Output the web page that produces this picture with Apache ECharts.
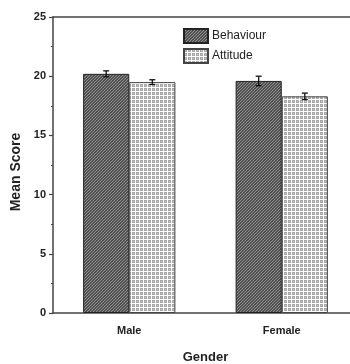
<!DOCTYPE html>
<html><head><meta charset="utf-8">
<script src="https://cdn.jsdelivr.net/npm/echarts@6/dist/echarts.min.js"></script>
<style>html,body{margin:0;padding:0;background:#fff}#c{width:350px;height:364px}</style>
</head><body><div id="c"></div>
<script>
const categories = ['Male', 'Female'];
const seriesNames = ['Behaviour', 'Attitude'];
const behaviour = [20.2, 19.6];
const behaviourErr = [0.25, 0.4];
const attitude = [19.5, 18.3];
const attitudeErr = [0.2, 0.27];
const yTicks = [0, 5, 10, 15, 20, 25];

function hatchPattern() {
  const c = document.createElement('canvas');
  c.width = 6; c.height = 6;
  const g = c.getContext('2d');
  g.fillStyle = '#525252'; g.fillRect(0, 0, 6, 6);
  g.strokeStyle = '#8e8e8e'; g.lineWidth = 1;
  for (let k = -6; k <= 12; k += 3) {
    g.beginPath(); g.moveTo(k, 6); g.lineTo(k + 6, 0); g.stroke();
  }
  return c;
}
function checkPattern() {
  const c = document.createElement('canvas');
  c.width = 4; c.height = 4;
  const g = c.getContext('2d');
  g.fillStyle = '#ffffff'; g.fillRect(0, 0, 4, 4);
  g.fillStyle = '#a8a8a8'; g.fillRect(0, 0, 3, 3);
  g.fillStyle = '#c8c8c8'; g.fillRect(1, 1, 1, 1);
  return c;
}
const fills = [{image: hatchPattern(), repeat: 'repeat'}, {image: checkPattern(), repeat: 'repeat'}];
const barGapPct = 0.395;

function errSeries(idx, vals, errs) {
  return {
    type: 'custom', name: seriesNames[idx] + ' err', silent: true, z: 5,
    data: vals.map((v, i) => [i, v, errs[i]]),
    renderItem: function (params, api) {
      const band = api.size([1, 0])[0];
      const bw = band * (1 - barGapPct) / 2;
      const c = api.coord([api.value(0), api.value(1)]);
      const x = c[0] + (idx === 0 ? -bw / 2 : bw / 2);
      const top = api.coord([api.value(0), api.value(1) + api.value(2)])[1];
      const bot = api.coord([api.value(0), api.value(1) - api.value(2)])[1];
      const st = {stroke: '#111', lineWidth: 1.3};
      return {type: 'group', children: [
        {type: 'line', shape: {x1: x, y1: top, x2: x, y2: bot}, style: st},
        {type: 'line', shape: {x1: x - 3, y1: top, x2: x + 3, y2: top}, style: st},
        {type: 'line', shape: {x1: x - 3, y1: bot, x2: x + 3, y2: bot}, style: st}
      ]};
    }
  };
}

const axisCol = '#444';
const font = 'Liberation Sans, Arial, sans-serif';
const chart = echarts.init(document.getElementById('c'), null, {renderer: 'canvas'});
chart.setOption({
  animation: false,
  backgroundColor: '#fff',
  grid: {left: 53, top: 17, bottom: 51, right: -8, outerBoundsMode: 'none', containLabel: false},
  legend: {
    data: seriesNames, orient: 'vertical', left: 183, top: 28, padding: 0,
    itemWidth: 24, itemHeight: 14, itemGap: 4, icon: 'rect',
    textStyle: {fontSize: 12, fontFamily: font, color: '#222', padding: [0, 0, 0, -1]}
  },
  xAxis: [
    {type: 'category', position: 'bottom', data: categories, name: 'Gender', nameLocation: 'middle', nameGap: 38,
     nameTextStyle: {fontSize: 13, fontWeight: 'bold', color: '#222', fontFamily: font},
     axisLine: {lineStyle: {color: axisCol, width: 1.5}},
     axisTick: {alignWithLabel: true, length: 5, lineStyle: {color: axisCol, width: 1.2}},
     axisLabel: {margin: 12, fontSize: 11, fontWeight: 'bold', color: '#222', fontFamily: font},
     splitLine: {show: false}},
    {type: 'category', position: 'bottom', data: categories,
     axisLine: {show: false}, axisLabel: {show: false},
     axisTick: {length: 2, lineStyle: {color: axisCol, width: 1}}, splitLine: {show: false}},
    {type: 'category', position: 'top', data: categories,
     axisLine: {lineStyle: {color: axisCol, width: 1.5}}, axisLabel: {show: false},
     axisTick: {inside: true, alignWithLabel: true, length: 4, lineStyle: {color: axisCol, width: 1.2}}, splitLine: {show: false}},
    {type: 'category', position: 'top', data: categories,
     axisLine: {show: false}, axisLabel: {show: false},
     axisTick: {inside: true, length: 3, lineStyle: {color: axisCol, width: 1}}, splitLine: {show: false}}
  ],
  yAxis: {
    type: 'value', min: yTicks[0], max: yTicks[yTicks.length - 1], interval: 5,
    name: 'Mean Score', nameLocation: 'middle', nameGap: 26,
    nameTextStyle: {fontSize: 14, fontWeight: 'bold', color: '#222', fontFamily: font, padding: [0, 14, 0, 0]},
    axisLine: {show: true, lineStyle: {color: axisCol, width: 1.5}},
    axisTick: {show: true, length: 4, lineStyle: {color: axisCol, width: 1.2}},
    minorTick: {show: true, splitNumber: 2, length: 2, lineStyle: {color: axisCol, width: 1}},
    axisLabel: {margin: 7, fontSize: 11, fontWeight: 'bold', color: '#222', fontFamily: font},
    splitLine: {show: false}
  },
  series: [
    {type: 'bar', name: seriesNames[0], data: behaviour, barGap: '0%', barCategoryGap: (barGapPct * 100) + '%',
     itemStyle: {color: fills[0], borderColor: '#222', borderWidth: 1}},
    {type: 'bar', name: seriesNames[1], data: attitude, barGap: '0%', barCategoryGap: (barGapPct * 100) + '%',
     itemStyle: {color: fills[1], borderColor: '#444', borderWidth: 1}},
    errSeries(0, behaviour, behaviourErr),
    errSeries(1, attitude, attitudeErr)
  ]
});
</script></body></html>
